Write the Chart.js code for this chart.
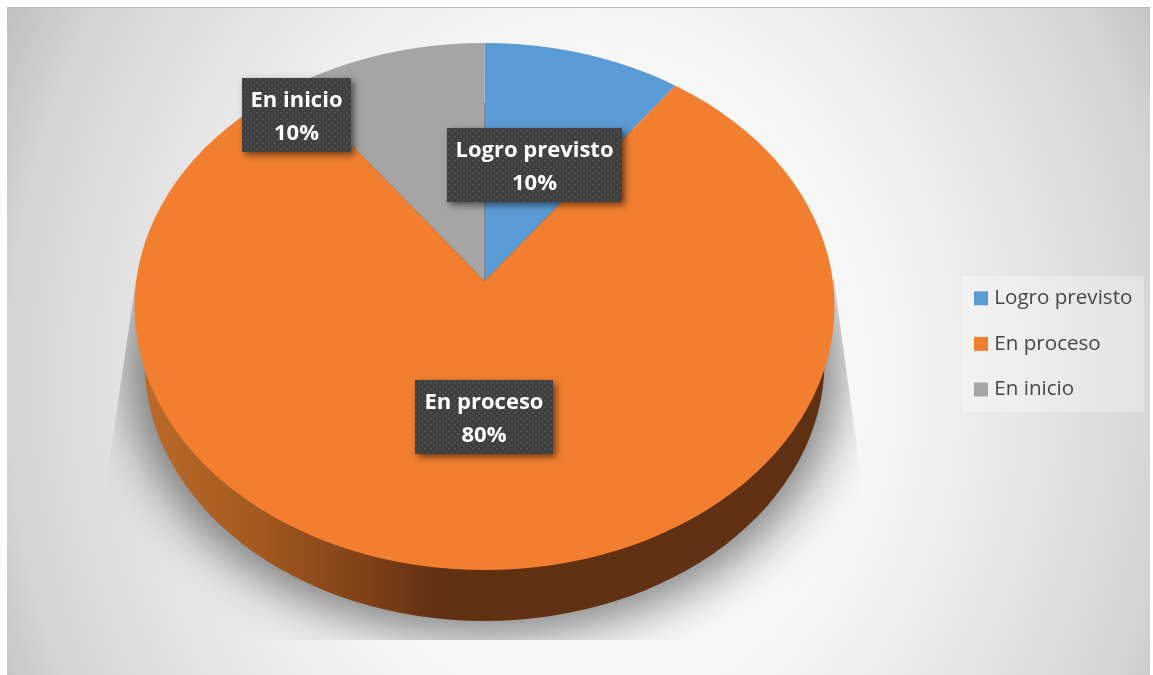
<!DOCTYPE html>
<html><head><meta charset="utf-8">
<style>html,body{margin:0;padding:0;background:#fff}canvas{display:block}</style>
<script src="https://cdn.jsdelivr.net/npm/chart.js@4"></script>
</head><body>
<canvas id="c" width="1153" height="675"></canvas>
<script>
const categories = ['Logro previsto', 'En proceso', 'En inicio'];
const values = [10, 80, 10];
const sliceColors = ['#5B9BD5', '#F27F30', '#A5A5A5'];

// Layout constants (drawing geometry, not data)
const FACE = {cx:484.5, cy:306.5, rx:350, ry:263.5};
const BASE = {cx:484.5, cy:362, rx:340, ry:259};
const APEX = {x:484.5, y:281, squash:0.744};
const LABEL_BOXES = [
  {x:447, y:128, w:175, h:74},
  {x:415, y:380, w:138, h:74},
  {x:242, y:78,  w:109, h:74}
];
const FONT = '"Open Sans", sans-serif';

const total = values.reduce((a,b)=>a+b,0);

function dotPattern(ctx){
  const t=document.createElement('canvas');t.width=6;t.height=6;
  const g=t.getContext('2d');
  g.fillStyle='#3F3F3F';g.fillRect(0,0,6,6);
  g.fillStyle='#4E4E4E';g.fillRect(1,1,2,2);g.fillRect(4,4,2,2);
  return ctx.createPattern(t,'repeat');
}

const scene = {
  id:'scene',
  afterLayout(chart){
    const l=chart.legend;
    l.left=953; l.right=1153; l.top=263; l.bottom=675;
  },
  beforeDraw(chart){
    const c=chart.ctx;
    c.save();
    c.fillStyle='#fff';c.fillRect(0,0,1153,675);
    c.fillStyle='#BDBDBD';c.fillRect(7,7,1143,1);
    // frame background
    c.beginPath();c.rect(7,8,1143,667);c.clip();
    c.save();
    c.translate(590,380);c.scale(1,1.2);
    const g=c.createRadialGradient(0,0,0,0,0,660);
    g.addColorStop(0,'#FFFFFF');g.addColorStop(.37,'#F8F8F8');g.addColorStop(.47,'#F4F4F4');g.addColorStop(.64,'#E8E8E8');g.addColorStop(.88,'#D4D4D4');g.addColorStop(1,'#C0C0C0');
    c.fillStyle=g;c.fillRect(-700,-500,1400,900);
    c.restore();
    // ground shadow
    c.save();
    c.beginPath();c.moveTo(136,280);c.lineTo(108,470);c.lineTo(108,640);c.lineTo(860,640);c.lineTo(860,470);c.lineTo(834,280);c.closePath();c.clip();
    c.shadowColor='rgba(0,0,0,0.5)';c.shadowBlur=50;c.shadowOffsetX=3000;
    c.fillStyle='#000';
    c.beginPath();c.ellipse(BASE.cx-3000,BASE.cy+6,BASE.rx+14,BASE.ry+8,0,0,Math.PI*2);c.fill();
    c.restore();
    // legend panel
    c.fillStyle='rgba(255,255,255,0.3)';c.fillRect(962,276,182,136);
    c.restore();
  },
  beforeDatasetsDraw(chart){
    const c=chart.ctx;
    const side=c.createLinearGradient(134,0,834,0);
    side.addColorStop(0,'#BC6C2B');side.addColorStop(.18,'#A3591F');side.addColorStop(.33,'#7F4118');side.addColorStop(.44,'#613013');side.addColorStop(1,'#5F3113');
    c.fillStyle=side;
    c.beginPath();c.ellipse(BASE.cx,BASE.cy,BASE.rx,BASE.ry,0,0,Math.PI*2);c.fill();
    const arc=chart.getDatasetMeta(0).data[0];
    c.save();
    c.beginPath();c.ellipse(FACE.cx,FACE.cy,FACE.rx,FACE.ry,0,0,Math.PI*2);c.clip();
    c.translate(APEX.x,APEX.y);c.scale(1,APEX.squash);c.translate(-arc.x,-arc.y);
  },
  afterDatasetsDraw(chart){
    const c=chart.ctx;
    c.restore();
    const pat=dotPattern(c);
    categories.forEach((name,i)=>{
      const b=LABEL_BOXES[i];
      c.save();
      c.shadowColor='rgba(0,0,0,0.55)';c.shadowBlur=7;c.shadowOffsetX=3;c.shadowOffsetY=3;
      c.fillStyle='#3F3F3F';c.fillRect(b.x,b.y,b.w,b.h);
      c.restore();
      c.fillStyle=pat;c.fillRect(b.x,b.y,b.w,b.h);
      c.fillStyle='#fff';c.textAlign='center';c.textBaseline='middle';
      c.font='700 22px '+FONT;
      const mx=b.x+b.w/2;
      c.fillText(name,mx,b.y+23);
      c.fillText(Math.round(values[i]/total*100)+'%',mx,b.y+56);
    });
  }
};

new Chart(document.getElementById('c'),{
  type:'pie',
  data:{labels:categories,datasets:[{data:values,backgroundColor:sliceColors,borderWidth:0,radius:520,clip:false}]},
  options:{
    responsive:false,animation:false,
    plugins:{
      tooltip:{enabled:false},
      legend:{display:true,position:'right',align:'start',
        labels:{usePointStyle:true,pointStyle:'rect',boxWidth:6,boxHeight:14,padding:25,color:'#474747',font:{family:FONT,size:20.6}}}
    }
  },
  plugins:[scene]
});
</script>
</body></html>
